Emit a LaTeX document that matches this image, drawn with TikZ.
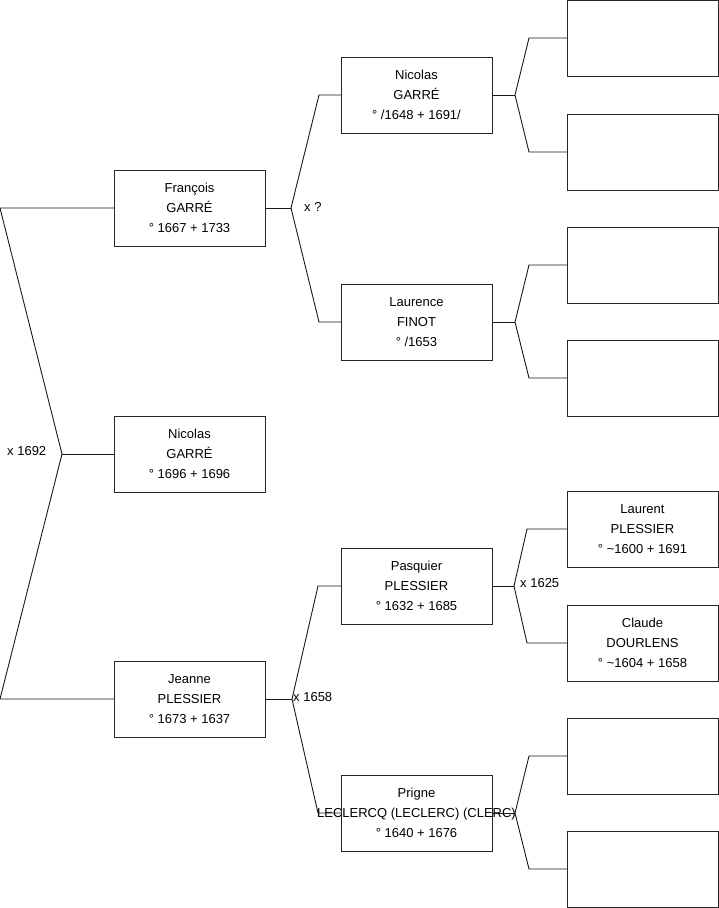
\documentclass[tikz,border=0pt]{standalone}
\usepackage{fontspec}
\setmainfont{Liberation Sans}
\begin{document}
\begin{tikzpicture}[x=1pt,y=-1pt,
  person/.style={draw=black!85, line width=0.9pt, minimum width=151pt, minimum height=76pt, inner sep=0pt, outer sep=0pt, align=center, font=\fontsize{13}{20}\selectfont, anchor=north west},
  link/.style={draw=black!90, line width=0.9pt},
  lbl/.style={font=\fontsize{13}{15}\selectfont, anchor=west, inner sep=0pt}]
\useasboundingbox (0,0) rectangle (719,908);
% column 1
\node[person] (fr) at (114,170) {François\\GARRÉ\\° 1667 + 1733};
\node[person] (ni) at (114,416) {Nicolas\\GARRÉ\\° 1696 + 1696};
\node[person] (je) at (114,661) {Jeanne\\PLESSIER\\° 1673 + 1637};
% column 2
\node[person] (nf) at (341,57) {Nicolas\\GARRÉ\\° /1648 + 1691/};
\node[person] (la) at (341,284) {Laurence\\FINOT\\° /1653};
\node[person] (pa) at (341,548) {Pasquier\\PLESSIER\\° 1632 + 1685};
\node[person] (pr) at (341,775) {Prigne\\\makebox[0pt]{LECLERCQ (LECLERC) (CLERC)}\\° 1640 + 1676};
% column 3
\node[person] (b1) at (567,0) {};
\node[person] (b2) at (567,114) {};
\node[person] (b3) at (567,227) {};
\node[person] (b4) at (567,340) {};
\node[person] (lp) at (567,491) {Laurent\\PLESSIER\\° \textasciitilde1600 + 1691};
\node[person] (cd) at (567,605) {Claude\\DOURLENS\\° \textasciitilde1604 + 1658};
\node[person] (b7) at (567,718) {};
\node[person] (b8) at (567,831) {};
% fork coordinates
\coordinate (rv) at (62,454);
\coordinate (rt) at (0,208);
\coordinate (rb) at (0,699);
\coordinate (v1) at (291,208); \coordinate (v1a) at (319,95); \coordinate (v1b) at (319,322);
\coordinate (v2) at (292,699); \coordinate (v2a) at (318,586); \coordinate (v2b) at (318,813);
\coordinate (v3) at (515,95); \coordinate (v3a) at (529,38); \coordinate (v3b) at (529,152);
\coordinate (v4) at (515,322); \coordinate (v4a) at (529,265); \coordinate (v4b) at (529,378);
\coordinate (v5) at (514,586); \coordinate (v5a) at (527,529); \coordinate (v5b) at (527,643);
\coordinate (v6) at (515,813); \coordinate (v6a) at (529,756); \coordinate (v6b) at (529,869);
% connectors
\draw[link] (fr.west) -- (rt) -- (rv) -- (rb) -- (je.west);
\draw[link] (rv) -- (ni.west);
\draw[link] (fr.east) -- (v1); \draw[link] (nf.west) -- (v1a) -- (v1) -- (v1b) -- (la.west);
\draw[link] (je.east) -- (v2); \draw[link] (pa.west) -- (v2a) -- (v2) -- (v2b) -- (pr.west);
\draw[link] (nf.east) -- (v3); \draw[link] (b1.west) -- (v3a) -- (v3) -- (v3b) -- (b2.west);
\draw[link] (la.east) -- (v4); \draw[link] (b3.west) -- (v4a) -- (v4) -- (v4b) -- (b4.west);
\draw[link] (pa.east) -- (v5); \draw[link] (lp.west) -- (v5a) -- (v5) -- (v5b) -- (cd.west);
\draw[link] (pr.east) -- (v6); \draw[link] (b7.west) -- (v6a) -- (v6) -- (v6b) -- (b8.west);
% labels
\node[lbl] (l1) at (7,451) {x 1692};
\node[lbl] (l2) at (304,207) {x ?};
\node[lbl] (l3) at (293,697) {x 1658};
\node[lbl] (l4) at (520,583) {x 1625};
\end{tikzpicture}
\end{document}
